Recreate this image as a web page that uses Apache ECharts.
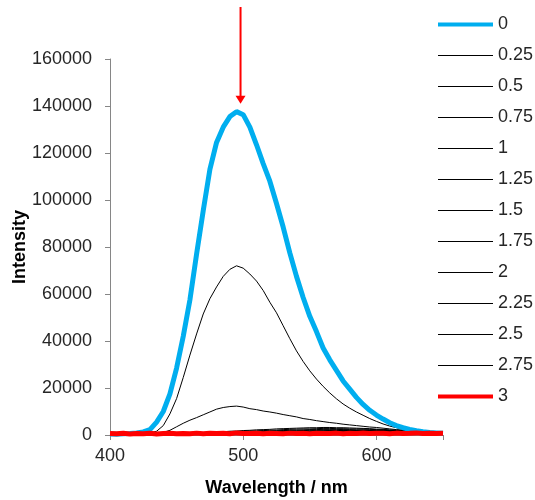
<!DOCTYPE html>
<html>
<head>
<meta charset="utf-8">
<script src="https://cdn.jsdelivr.net/npm/echarts@6/dist/echarts.min.js"></script>
<style>
  html, body { margin: 0; padding: 0; background: #fff; }
  #chart { width: 535px; height: 500px; }
</style>
</head>
<body>
<div id="chart"></div>
<script>
// Emission spectra, sampled every 5 nm
const wavelengths = [
  400, 405, 410, 415, 420, 425, 430, 435, 440, 445, 450,
  455, 460, 465, 470, 475, 480, 485, 490, 495, 500,
  505, 510, 515, 520, 525, 530, 535, 540, 545, 550,
  555, 560, 565, 570, 575, 580, 585, 590, 595, 600,
  605, 610, 615, 620, 625, 630, 635, 640, 645, 650
];

const seriesNames = ['0', '0.25', '0.5', '0.75', '1', '1.25', '1.5', '1.75', '2', '2.25', '2.5', '2.75', '3'];

const int0 = [
  400, 300, 500, 600, 900, 1300, 2300, 5500, 10000, 17500, 28500,
  42000, 57500, 77000, 95500, 113000, 124500, 131000, 135500, 137600, 136300,
  131000, 123500, 115500, 108000, 98500, 88500, 77500, 67500, 58500, 50500,
  44000, 37000, 32000, 27500, 23000, 19500, 16000, 13000, 10500, 8500,
  6800, 5200, 4000, 3100, 2400, 1800, 1400, 1100, 900, 700
];
const int025 = [
  300, 250, 350, 300, 400, 600, 900, 1600, 4000, 9000, 15500,
  24500, 34000, 43000, 51500, 58000, 63000, 67500, 70500, 72000, 71000,
  68500, 65500, 61500, 56500, 52000, 46500, 41000, 35800, 31300, 27300,
  23800, 20700, 17900, 15400, 13200, 11400, 9800, 8400, 7000, 5800,
  4700, 3800, 3100, 2500, 2000, 1600, 1300, 1100, 900, 800
];
const int05 = [
  200, 250, 200, 300, 300, 400, 500, 700, 1100, 2000, 3500,
  5000, 6300, 7400, 8600, 9800, 11000, 11700, 12100, 12300, 11900,
  11200, 10800, 10200, 9800, 9300, 8700, 8200, 7700, 7000, 6600,
  6100, 5700, 5300, 5000, 4600, 4300, 4000, 3700, 3400, 3200,
  2900, 2600, 2300, 2100, 1800, 1600, 1400, 1200, 1000, 900
];
const int075 = [
  200, 300, 200, 300, 250, 300, 350, 300, 400, 450, 500,
  600, 700, 800, 900, 1100, 1200, 1400, 1600, 1700, 1900,
  2000, 2200, 2300, 2400, 2600, 2700, 2800, 2900, 3000, 3100,
  3100, 3200, 3200, 3100, 3100, 3000, 2900, 2800, 2700, 2500,
  2400, 2200, 2100, 1900, 1800, 1600, 1500, 1300, 1200, 1100
];
const int1 = [
  300, 200, 300, 250, 200, 300, 300, 350, 300, 400, 400,
  500, 600, 700, 800, 900, 1000, 1100, 1300, 1400, 1500,
  1700, 1800, 1900, 2000, 2100, 2300, 2400, 2500, 2600, 2600,
  2700, 2800, 2800, 2700, 2700, 2600, 2600, 2500, 2400, 2300,
  2200, 2000, 1900, 1800, 1600, 1500, 1400, 1200, 1100, 1000
];
const int125 = [
  200, 250, 200, 300, 300, 250, 300, 300, 350, 300, 400,
  400, 500, 600, 700, 800, 900, 1000, 1100, 1200, 1300,
  1400, 1500, 1600, 1700, 1800, 1900, 2000, 2100, 2200, 2300,
  2300, 2400, 2400, 2400, 2300, 2300, 2200, 2200, 2100, 2000,
  1900, 1800, 1700, 1600, 1500, 1400, 1300, 1200, 1100, 1000
];
const int15 = [
  300, 200, 250, 200, 300, 300, 250, 300, 300, 350, 300,
  400, 400, 500, 600, 700, 800, 900, 1000, 1000, 1100,
  1200, 1300, 1400, 1500, 1600, 1700, 1800, 1800, 1900, 2000,
  2000, 2100, 2100, 2100, 2100, 2000, 2000, 1900, 1900, 1800,
  1700, 1700, 1600, 1500, 1400, 1300, 1200, 1100, 1000, 1000
];
const int175 = [
  200, 300, 200, 250, 300, 200, 300, 300, 250, 300, 350,
  350, 400, 450, 500, 600, 700, 700, 800, 900, 1000,
  1000, 1100, 1200, 1300, 1400, 1500, 1500, 1600, 1700, 1700,
  1800, 1800, 1900, 1900, 1900, 1900, 1800, 1800, 1700, 1700,
  1600, 1600, 1500, 1400, 1400, 1300, 1200, 1100, 1000, 900
];
const int2 = [
  250, 200, 300, 200, 250, 300, 250, 300, 300, 300, 350,
  300, 400, 400, 500, 500, 600, 700, 700, 800, 900,
  900, 1000, 1100, 1100, 1200, 1300, 1300, 1400, 1500, 1500,
  1600, 1600, 1700, 1700, 1700, 1700, 1700, 1600, 1600, 1600,
  1500, 1500, 1400, 1400, 1300, 1200, 1200, 1100, 1000, 900
];
const int225 = [
  200, 250, 200, 300, 250, 200, 300, 250, 300, 300, 300,
  300, 350, 400, 400, 450, 500, 600, 600, 700, 800,
  800, 900, 900, 1000, 1100, 1100, 1200, 1200, 1300, 1300,
  1400, 1400, 1500, 1500, 1500, 1500, 1500, 1500, 1400, 1400,
  1400, 1400, 1300, 1300, 1200, 1200, 1100, 1000, 1000, 900
];
const int25 = [
  300, 200, 250, 200, 300, 250, 250, 300, 250, 300, 300,
  300, 300, 350, 400, 400, 450, 500, 550, 600, 650,
  700, 750, 800, 850, 900, 950, 1000, 1000, 1100, 1100,
  1200, 1200, 1200, 1300, 1300, 1300, 1300, 1300, 1300, 1300,
  1200, 1200, 1200, 1100, 1100, 1100, 1000, 1000, 900, 900
];
const int275 = [
  200, 300, 200, 250, 300, 200, 250, 300, 250, 250, 300,
  300, 300, 300, 350, 350, 400, 450, 500, 500, 550,
  600, 650, 700, 700, 750, 800, 850, 850, 900, 900,
  950, 1000, 1000, 1050, 1100, 1100, 1100, 1100, 1100, 1100,
  1100, 1100, 1000, 1000, 1000, 1000, 950, 900, 900, 850
];
const int3 = [
  600, 500, 700, 400, 650, 500, 750, 450, 600, 700, 500,
  650, 550, 800, 500, 700, 600, 750, 550, 900, 650,
  600, 750, 500, 700, 650, 550, 800, 600, 700, 500,
  750, 600, 650, 800, 550, 700, 650, 850, 600, 700,
  750, 550, 800, 650, 700, 900, 600, 750, 650, 700
];

const intensities = [int0, int025, int05, int075, int1, int125, int15, int175, int2, int225, int25, int275, int3];

// Peak marker: wavelength and intensity of the arrow tip
const arrowTip = [498, 141000];

const xTicks = { min: 400, max: 650, step: 100 };
const yTicks = { min: 0, max: 160000, step: 20000 };

const labelFont = 'Liberation Sans, Arial, sans-serif';

function lineStyleFor(i) {
  if (i === 0) return { color: '#00AEEF', width: 5 };
  if (i === intensities.length - 1) return { color: '#FF0000', width: 5 };
  return { color: '#000000', width: 1 };
}

const series = intensities.map(function (vals, i) {
  const ls = lineStyleFor(i);
  return {
    name: seriesNames[i],
    type: 'line',
    data: vals.map(function (v, k) { return [wavelengths[k], v]; }),
    symbol: 'none',
    showSymbol: false,
    smooth: false,
    color: ls.color,
    lineStyle: { color: ls.color, width: ls.width },
    emphasis: { disabled: true },
    animation: false,
    z: i === 0 || i === intensities.length - 1 ? 3 : 2
  };
});

const legendData = seriesNames.map(function (name, i) {
  const ls = lineStyleFor(i);
  return {
    name: name,
    itemStyle: { opacity: 0 },
    lineStyle: { color: ls.color, width: ls.width === 1 ? 1 : 4, opacity: 1 }
  };
});

const chart = echarts.init(document.getElementById('chart'), null, { renderer: 'canvas' });

chart.setOption({
  backgroundColor: '#ffffff',
  animation: false,
  grid: { left: 110, right: 92, top: 59, bottom: 65, containLabel: false, outerBoundsMode: 'none' },
  legend: {
    orient: 'vertical',
    left: 431,
    top: 10.5,
    padding: 5,
    itemWidth: 55,
    itemHeight: 14,
    itemGap: 13,
    selectedMode: false,
    itemStyle: { opacity: 0 },
    data: legendData,
    textStyle: { fontFamily: labelFont, fontSize: 18, color: '#262626' }
  },
  xAxis: {
    type: 'value',
    min: xTicks.min,
    max: xTicks.max,
    interval: xTicks.step,
    name: 'Wavelength / nm',
    nameLocation: 'middle',
    nameGap: 44,
    nameMoveOverlap: false,
    nameTextStyle: { fontFamily: labelFont, fontSize: 18, fontWeight: 'bold', color: '#000' },
    axisLine: { show: true, lineStyle: { color: '#868686', width: 1 } },
    axisTick: { show: true, length: 5, lineStyle: { color: '#868686' } },
    splitLine: { show: false },
    axisLabel: {
      fontFamily: labelFont, fontSize: 18, color: '#262626', margin: 12,
      formatter: function (v) { return v % xTicks.step === 0 ? String(v) : ''; }
    }
  },
  yAxis: {
    type: 'value',
    min: yTicks.min,
    max: yTicks.max,
    interval: yTicks.step,
    name: 'Intensity',
    nameLocation: 'middle',
    nameGap: 81,
    nameMoveOverlap: false,
    nameTextStyle: { fontFamily: labelFont, fontSize: 18, fontWeight: 'bold', color: '#000' },
    axisLine: { show: true, lineStyle: { color: '#868686', width: 1 } },
    axisTick: { show: true, length: 5, lineStyle: { color: '#868686' } },
    splitLine: { show: false },
    axisLabel: {
      fontFamily: labelFont, fontSize: 18, color: '#262626', margin: 18,
      formatter: function (v) { return String(v); }
    }
  },
  series: series
});

// Red arrow pointing down at the peak of the first spectrum
const tip = chart.convertToPixel({ gridIndex: 0 }, arrowTip);
const headH = 8, headW = 10, topY = 7;
chart.setOption({
  graphic: [
    {
      type: 'line',
      shape: { x1: tip[0], y1: topY, x2: tip[0], y2: tip[1] - headH + 1 },
      style: { stroke: '#FF0000', lineWidth: 2 },
      z: 100
    },
    {
      type: 'polygon',
      shape: { points: [[tip[0] - headW / 2, tip[1] - headH], [tip[0] + headW / 2, tip[1] - headH], [tip[0], tip[1]]] },
      style: { fill: '#FF0000' },
      z: 100
    }
  ]
});
</script>
</body>
</html>
